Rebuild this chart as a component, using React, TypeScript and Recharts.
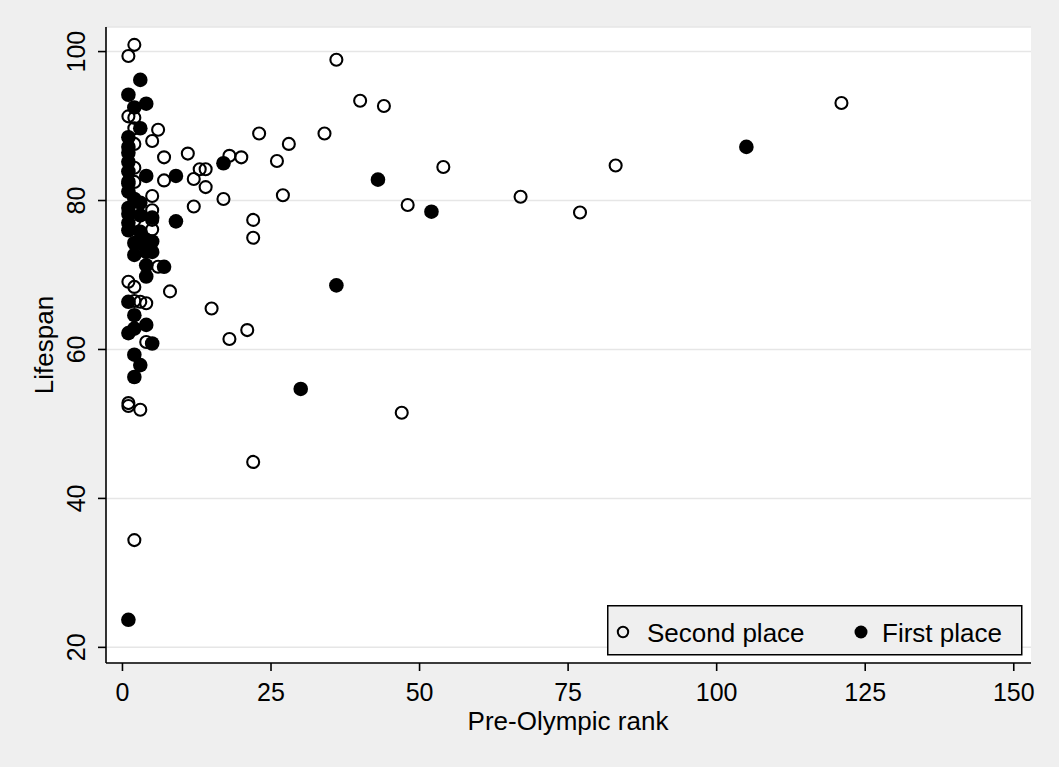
import { ScatterChart, Scatter, XAxis, YAxis, CartesianGrid, Legend } from "recharts";

// Pre-Olympic rank / lifespan of medal winners
const secondRank = [
  2, 1, 1, 2, 2, 6, 5, 2, 7, 11, 2, 13, 14, 7, 12, 14, 1, 2, 5, 12,
  5, 5, 2, 5, 17, 18, 20, 23, 26, 27, 22, 22, 28, 34, 36, 40, 44, 48, 54, 67,
  77, 83, 121, 6, 1, 2, 8, 2, 3, 4, 15, 21, 18, 4, 47, 22, 1, 1, 3, 2,
];
const secondLife = [
  100.9, 99.4, 91.3, 91.1, 89.7, 89.5, 88.0, 87.6, 85.8, 86.3, 84.4, 84.2, 84.2, 82.7, 82.9, 81.8, 82.6, 82.5, 80.6, 79.2,
  78.7, 77.4, 77.3, 76.1, 80.2, 86.0, 85.8, 89.0, 85.3, 80.7, 77.4, 75.0, 87.6, 89.0, 98.9, 93.4, 92.7, 79.4, 84.5, 80.5,
  78.4, 84.7, 93.1, 71.1, 69.1, 68.4, 67.8, 66.5, 66.4, 66.2, 65.5, 62.6, 61.4, 61.0, 51.5, 44.9, 52.8, 52.4, 51.9, 34.4,
];

const firstRank = [
  3, 1, 4, 2, 3, 1, 1, 1, 1, 1, 4, 9, 1, 1, 2, 3, 1, 1, 5, 9,
  1, 1, 2, 3, 5, 5, 2, 4, 7, 4, 1, 2, 4, 2, 1, 5, 2, 3, 2, 1,
  17, 43, 52, 105, 36, 30, 3, 4, 4, 3,
];
const firstLife = [
  96.2, 94.2, 93.0, 92.5, 89.7, 88.5, 87.2, 86.4, 85.2, 83.9, 83.3, 83.3, 82.3, 81.2, 80.2, 79.7, 79.0, 78.2, 77.7, 77.2,
  77.0, 76.0, 74.3, 74.3, 74.5, 73.1, 72.7, 71.3, 71.1, 69.8, 66.4, 64.6, 63.3, 62.8, 62.2, 60.8, 59.3, 57.9, 56.3, 23.7,
  85.0, 82.8, 78.5, 87.2, 68.6, 54.7, 78.0, 74.7, 73.1, 75.8,
];

const xTicks = [0, 25, 50, 75, 100, 125, 150];
const yTicks = [20, 40, 60, 80, 100];

const FONT = "'Liberation Sans', Arial, Helvetica, sans-serif";
const BG = "#efefef";

const second = secondRank.map((r, i) => ({ rank: r, life: secondLife[i] }));
const first = firstRank.map((r, i) => ({ rank: r, life: firstLife[i] }));

const Hollow = (p: any) => (
  <circle cx={p.cx} cy={p.cy} r={6} fill="none" stroke="#000" strokeWidth={2.1} />
);
const Solid = (p: any) => <circle cx={p.cx} cy={p.cy} r={7.3} fill="#000" />;

const XTick = ({ x, payload }: any) => (
  <text x={x} y={701} textAnchor="middle" fontSize={25} fontFamily={FONT} fill="#000">
    {payload.value}
  </text>
);

const YTick = ({ y, payload }: any) => (
  <text
    x={85}
    y={y}
    textAnchor="middle"
    fontSize={25}
    fontFamily={FONT}
    fill="#000"
    transform={`rotate(-90, 85, ${y})`}
  >
    {payload.value}
  </text>
);

const XTitle = () => (
  <text x={568} y={730} textAnchor="middle" fontSize={26} fontFamily={FONT} fill="#000">
    Pre-Olympic rank
  </text>
);

const YTitle = () => (
  <text
    x={53}
    y={345}
    textAnchor="middle"
    fontSize={26}
    fontFamily={FONT}
    fill="#000"
    transform="rotate(-90, 53, 345)"
  >
    Lifespan
  </text>
);

const LegendBox = () => (
  <svg width={416} height={51} style={{ display: "block" }}>
    <rect x={0.75} y={0.75} width={414} height={49} fill={BG} stroke="#000" strokeWidth={1.5} />
    <circle cx={16} cy={27} r={5.2} fill="none" stroke="#000" strokeWidth={2} />
    <text x={40} y={37} fontSize={26} fontFamily={FONT} fill="#000">Second place</text>
    <circle cx={254} cy={27} r={6.5} fill="#000" />
    <text x={275} y={37} fontSize={26} fontFamily={FONT} fill="#000">First place</text>
  </svg>
);

export default function App() {
  return (
    <div style={{ position: "fixed", left: 0, top: 0, width: 1059, height: 767, background: BG }}>
      <ScatterChart width={1059} height={767} margin={{ top: 27, right: 28, bottom: 44, left: 46 }}>
        <CartesianGrid horizontal vertical={false} fill="#fff" stroke="#e6e6e6" strokeWidth={1.5} />
        <XAxis
          type="number"
          dataKey="rank"
          domain={[-2.77, 152.9]}
          ticks={xTicks}
          allowDataOverflow
          height={60}
          stroke="#000"
          strokeWidth={1.6}
          tickSize={8}
          tick={<XTick />}
          label={{ content: XTitle }}
        />
        <YAxis
          type="number"
          dataKey="life"
          domain={[17.9, 103.3]}
          ticks={yTicks}
          allowDataOverflow
          width={60}
          stroke="#000"
          strokeWidth={1.6}
          tickSize={8}
          tick={<YTick />}
          label={{ content: YTitle }}
        />
        <Scatter name="Second place" data={second} shape={Hollow} isAnimationActive={false} />
        <Scatter name="First place" data={first} shape={Solid} isAnimationActive={false} />
        <Legend
          verticalAlign="middle"
          layout="horizontal"
          content={<LegendBox />}
          wrapperStyle={{ position: "absolute", left: 607, top: 605, width: 416, height: 51 }}
        />
      </ScatterChart>
    </div>
  );
}
